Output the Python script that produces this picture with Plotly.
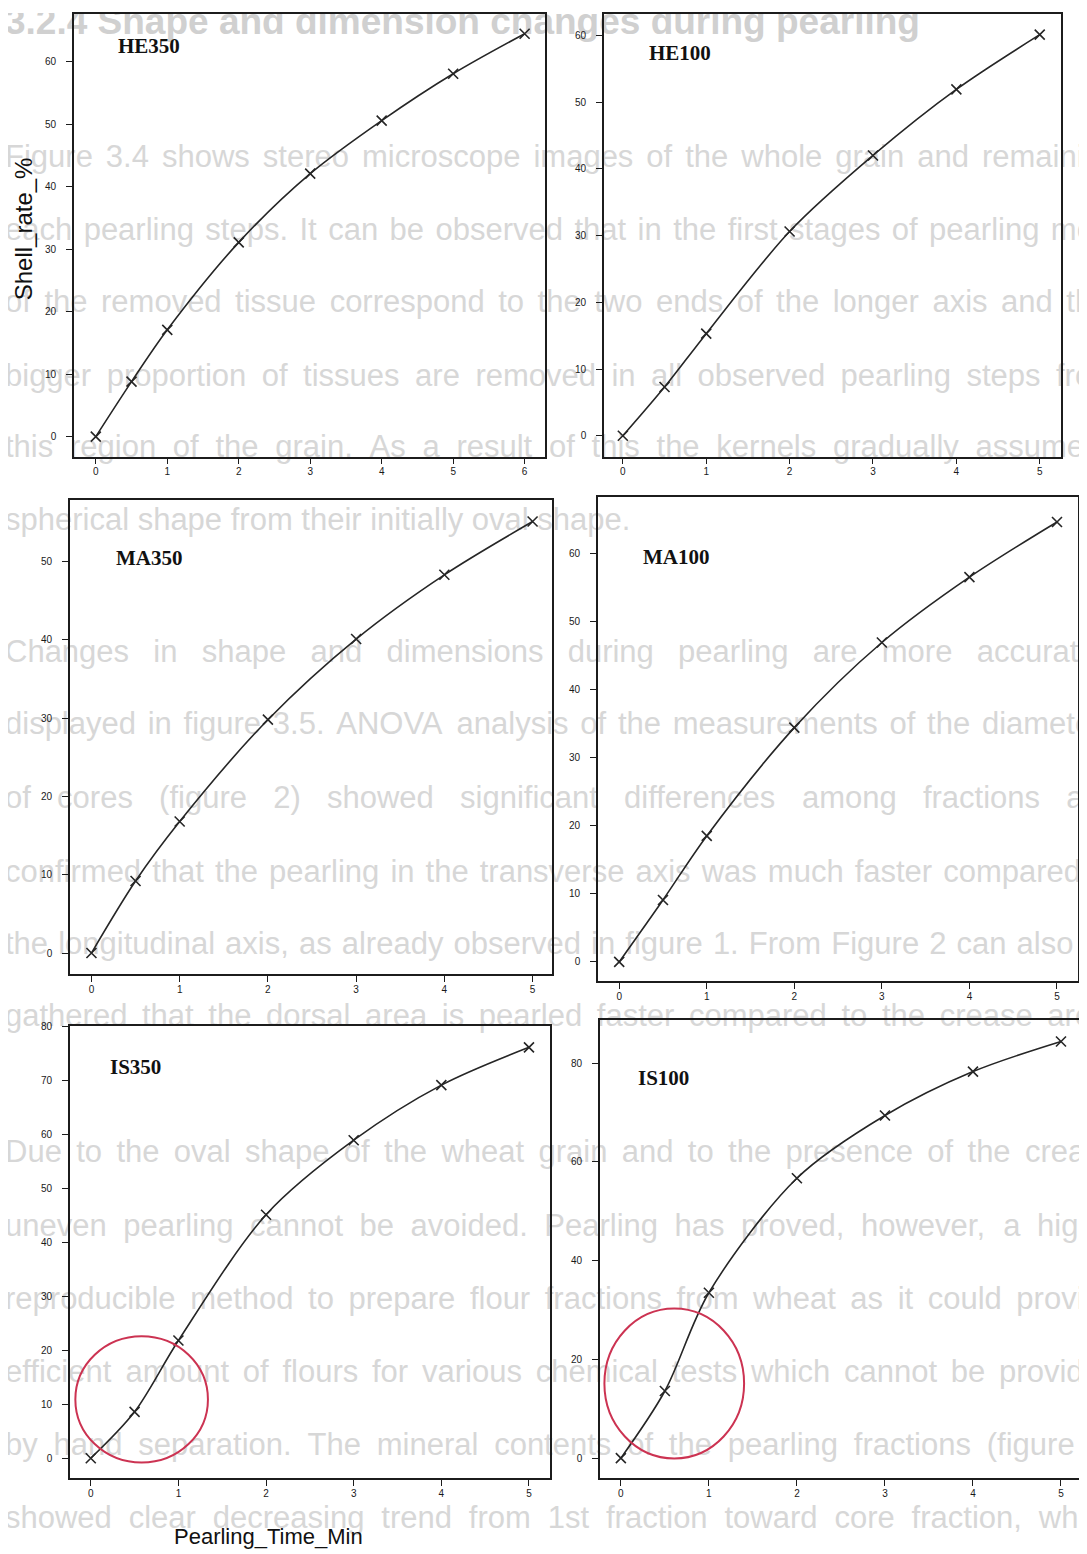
import plotly.graph_objects as go

W, H = 1087, 1554
OX, OY = 8, 8          # default page (body) margin of the html page
FW, FH = W - OX, H - OY

# ---------------- data ----------------
time_he350 = [0, 0.5, 1, 2, 3, 4, 5, 6]
time_other = [0, 0.5, 1, 2, 3, 4, 5]
shell_he350 = [0, 8.8, 17.1, 31.1, 42.1, 50.6, 58.1, 64.5]
shell_he100 = [0, 7.3, 15.3, 30.6, 42.0, 51.9, 60.1]
shell_ma350 = [0, 9.2, 16.8, 29.8, 40.1, 48.3, 55.1]
shell_ma100 = [0, 9.1, 18.5, 34.4, 46.9, 56.5, 64.6]
shell_is350 = [0, 8.6, 21.8, 45.1, 58.9, 69.1, 76.1]
shell_is100 = [0, 13.6, 33.5, 56.7, 69.4, 78.3, 84.4]
panel_names = ["HE350", "HE100", "MA350", "MA100", "IS350", "IS100"]
x_ticks_6 = [0, 1, 2, 3, 4, 5, 6]
x_ticks_5 = [0, 1, 2, 3, 4, 5]
y_ticks_60 = [0, 10, 20, 30, 40, 50, 60]
y_ticks_50 = [0, 10, 20, 30, 40, 50]
y_ticks_80 = [0, 10, 20, 30, 40, 50, 60, 70, 80]
y_ticks_80b = [0, 20, 40, 60, 80]
y_title = "Shell_rate_%"
x_title = "Pearling_Time_Min"

# background (scanned page) text
heading = "3.2.4 Shape and dimension changes during pearling"
body_lines = [
    "Figure 3.4 shows stereo microscope images of the whole grain and remaining",
    "each pearling steps. It can be observed that in the first stages of pearling most",
    "of the removed tissue correspond to the two ends of the longer axis and that",
    "bigger proportion of tissues are removed in all observed pearling steps from",
    "this region of the grain. As a result of this the kernels gradually assume a",
    "spherical shape from their initially oval shape.",
    "Changes in shape and dimensions during pearling are more accurately",
    "displayed in figure 3.5. ANOVA analysis of the measurements of the diameters",
    "of cores (figure 2) showed significant differences among fractions and",
    "confirmed that the pearling in the transverse axis was much faster compared to",
    "the longitudinal axis, as already observed in figure 1. From Figure 2 can also be",
    "gathered that the dorsal area is pearled faster compared to the crease area.",
    "Due to the oval shape of the wheat grain and to the presence of the crease",
    "uneven pearling cannot be avoided. Pearling has proved, however, a highly",
    "reproducible method to prepare flour fractions from wheat as it could provide",
    "efficient amount of flours for various chemical tests which cannot be provided",
    "by hand separation. The mineral contents of the pearling fractions (figure 4)",
    "showed clear decreasing trend from 1st fraction toward core fraction, which",
]
body_y = [155, 228, 300, 374, 446, 519, 651, 724, 798, 872, 944, 1017,
          1153, 1227, 1300, 1374, 1447, 1520]
body_justified = [True, True, True, True, True, False, True, True, True, True, True, True,
                  True, True, True, True, True, True]

# ---------------- text width helper (Arial / Helvetica metrics) ----------------
_w = {' ': 278, '!': 278, '(': 333, ')': 333, ',': 278, '-': 333, '.': 278, ':': 278,
      ';': 278, '%': 889, '_': 556}
for c in '0123456789':
    _w[c] = 556
_up = dict(A=667, B=667, C=722, D=722, E=667, F=611, G=778, H=722, I=278, J=500, K=667,
           L=556, M=833, N=722, O=778, P=667, Q=778, R=722, S=667, T=611, U=722, V=667,
           W=944, X=667, Y=667, Z=611)
_lo = dict(a=556, b=556, c=500, d=556, e=556, f=278, g=556, h=556, i=222, j=222, k=500,
           l=222, m=833, n=556, o=556, p=556, q=556, r=333, s=500, t=278, u=556, v=500,
           w=722, x=500, y=500, z=500)
_w.update(_up)
_w.update(_lo)


def text_width(s, size):
    return sum(_w.get(ch, 556) for ch in s) * size / 1000.0


BODY_SIZE = 31
LEFT, RIGHT = 5, 1118
bx, by, bt = [], [], []
for line, yy, just in zip(body_lines, body_y, body_justified):
    words = line.split(' ')
    widths = [text_width(wd, BODY_SIZE) for wd in words]
    if just and len(words) > 1:
        gap = (RIGHT - LEFT - sum(widths)) / (len(words) - 1)
    else:
        gap = text_width(' ', BODY_SIZE)
    xx = LEFT
    for wd, ww in zip(words, widths):
        bx.append(xx)
        by.append(yy)
        bt.append(wd)
        xx += ww + gap

TXT_GRAY = "#d7d7d7"

fig = go.Figure()

# background page text on a full-page pixel axis (drawn first => underneath panels)
fig.add_trace(go.Scatter(
    x=bx, y=by, text=bt, mode="text", textposition="middle right",
    textfont=dict(family="Liberation Sans, Arial", size=BODY_SIZE, color=TXT_GRAY),
    hoverinfo="skip", showlegend=False, xaxis="x", yaxis="y"))
fig.add_trace(go.Scatter(
    x=[LEFT], y=[20], text=["<b>" + heading + "</b>"], mode="text",
    textposition="middle right",
    textfont=dict(family="Liberation Sans, Arial", size=37, color="#d0d0d0"),
    hoverinfo="skip", showlegend=False, xaxis="x", yaxis="y"))

layout_axes = dict(
    xaxis=dict(domain=[0, 1], range=[OX, W], visible=False, fixedrange=True),
    yaxis=dict(domain=[0, 1], range=[H, OY], visible=False, fixedrange=True),
)


def dx(px):
    return (px - OX) / FW


def dy(py):
    return 1 - (py - OY) / FH


panels = [
    # name, xs, ys, frame px (l, r, t, b), xrange, yrange, xticks, yticks, label pos (domain)
    (panel_names[0], time_he350, shell_he350, (74, 545, 9, 453), (-0.305, 6.285), (-3.19, 67.66), x_ticks_6, y_ticks_60, (0.090, 0.927)),
    (panel_names[1], time_other, shell_he100, (604, 1061, 9, 453), (-0.226, 5.255), (-3.12, 63.2), x_ticks_5, y_ticks_60, (0.093, 0.911)),
    (panel_names[2], time_other, shell_ma350, (70, 552, 497, 972), (-0.243, 5.22), (-2.66, 57.8), x_ticks_5, y_ticks_50, (0.092, 0.879)),
    (panel_names[3], time_other, shell_ma100, (598, 1078, 494, 979), (-0.242, 5.24), (-2.78, 68.2), x_ticks_5, y_ticks_60, (0.090, 0.876)),
    (panel_names[4], time_other, shell_is350, (70, 550, 1024, 1478), (-0.237, 5.24), (-3.7, 80.1), x_ticks_5, y_ticks_80, (0.08, 0.909)),
    (panel_names[5], time_other, shell_is100, (600, 1083, 1018, 1478), (-0.237, 5.25), (-4.07, 88.8), x_ticks_5, y_ticks_80b, (0.074, 0.874)),
]

LINE = "#262626"
FRAME = "#1c1c1c"
annotations = []
for i, (name, xs, ys, (l, r, t, b), xr, yr, xt, yt, (lx, ly)) in enumerate(panels):
    k = i + 2
    xa, ya = f"x{k}", f"y{k}"
    fig.add_trace(go.Scatter(
        x=xs, y=ys, mode="lines+markers", xaxis=xa, yaxis=ya,
        line=dict(color=LINE, width=1.6, shape="spline", smoothing=0.9),
        marker=dict(symbol="x-thin", size=10, line=dict(color=LINE, width=1.6)),
        showlegend=False, hoverinfo="x+y"))
    common = dict(showgrid=False, zeroline=False, showline=True, linecolor=FRAME,
                  linewidth=1.6, mirror=True, ticks="outside", ticklen=6, tickwidth=1.4,
                  tickcolor=FRAME, tickfont=dict(family="Liberation Sans, Arial", size=10,
                                                 color="#1a1a1a"),
                  fixedrange=True)
    layout_axes[f"xaxis{k}"] = dict(domain=[dx(l), dx(r)], range=list(xr), anchor=ya,
                                    tickmode="array", tickvals=xt,
                                    ticktext=[str(v) for v in xt],
                                    ticklabelstandoff=-1, **common)
    layout_axes[f"yaxis{k}"] = dict(domain=[dy(b), dy(t)], range=list(yr), anchor=xa,
                                    tickmode="array", tickvals=yt,
                                    ticktext=[str(v) for v in yt],
                                    ticklabelstandoff=8, **common)
    annotations.append(dict(
        xref=f"{xa} domain", yref=f"{ya} domain", x=lx, y=ly, xanchor="left",
        yanchor="middle", showarrow=False, text=f"<b>{name}</b>",
        font=dict(family="Liberation Serif, Times New Roman", size=21, color="#111111")))

annotations.append(dict(xref="x", yref="y", x=23, y=225, text=y_title, textangle=-90,
                        showarrow=False, xanchor="center", yanchor="middle",
                        font=dict(family="Liberation Sans, Arial", size=24, color="#111111")))
annotations.append(dict(xref="x", yref="y", x=268, y=1536, text=x_title,
                        showarrow=False, xanchor="center", yanchor="middle",
                        font=dict(family="Liberation Sans, Arial", size=22, color="#111111")))

RED = "#cc3352"
shapes = [
    dict(type="circle", xref="x6", yref="y6", x0=-0.176, x1=1.337, y0=-0.8, y1=22.6,
         line=dict(color=RED, width=2)),
    dict(type="circle", xref="x7", yref="y7", x0=-0.187, x1=1.40, y0=-0.07, y1=30.3,
         line=dict(color=RED, width=2)),
]

fig.update_layout(
    width=FW, height=FH, margin=dict(l=0, r=0, t=0, b=0),
    paper_bgcolor="white", plot_bgcolor="rgba(0,0,0,0)",
    showlegend=False, annotations=annotations, shapes=shapes, **layout_axes)

fig.write_html("out.html", config={"displayModeBar": False})
